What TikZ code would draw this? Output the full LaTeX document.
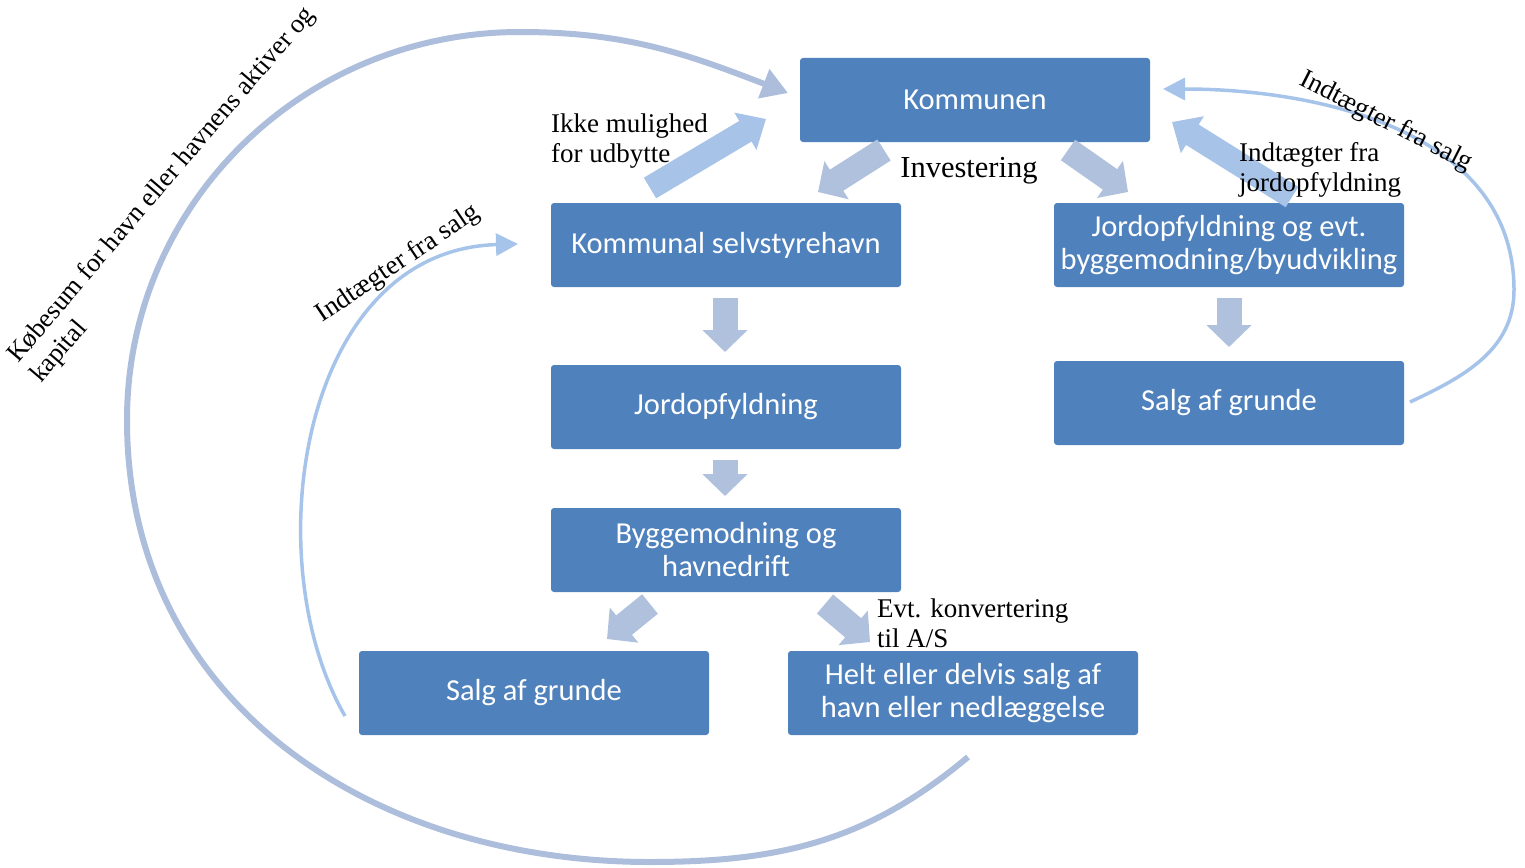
\documentclass[tikz,border=0pt]{standalone}
\usepackage{fontspec}
\setmainfont{Liberation Serif}
\newfontfamily\boxfont{Carlito}
\usetikzlibrary{arrows.meta}
\definecolor{boxblue}{HTML}{4F81BD}
\definecolor{flowgrey}{HTML}{B0C1DD}
\definecolor{flowlight}{HTML}{A8C3E8}
\definecolor{loopgrey}{HTML}{ADBEDC}
\definecolor{looplight}{HTML}{A6C3EA}

\begin{document}
\begin{tikzpicture}[x=1pt,y=-1pt,
  stepbox/.style={fill=boxblue, rounded corners=3pt, minimum width=350pt,
    minimum height=84pt, inner sep=0pt, align=center, text=white,
    font=\boxfont\fontsize{30.5}{33}\selectfont},
  note/.style={font=\fontsize{27}{30}\selectfont, align=left, inner sep=0pt},
  blockarrow/.style={draw=flowgrey, line width=25pt,
    -{Triangle[width=44pt,length=22pt]}},
  blocklight/.style={draw=flowlight, line width=24pt,
    -{Triangle[width=42pt,length=24pt]}},
  bigloop/.style={draw=loopgrey, line width=6pt,
    -{Triangle[width=30pt,length=26pt]}},
  thinloop/.style={draw=looplight, line width=3.5pt,
    -{Triangle[width=22pt,length=22pt]}},
]
\useasboundingbox (0,0) rectangle (1525,867);

% process boxes
\node[stepbox] (kom)   at (975,100) {Kommunen};
\node[stepbox] (selv)  at (726,245) {Kommunal selvstyrehavn};
\node[stepbox] (jev)   at (1229,245) {Jordopfyldning og evt.\\byggemodning/byudvikling};
\node[stepbox] (jord)  at (726,407) {Jordopfyldning};
\node[stepbox] (salgR) at (1229,403) {Salg af grunde};
\node[stepbox] (bygg)  at (726,550) {Byggemodning og\\havnedrift};
\node[stepbox] (salgL) at (534,693) {Salg af grunde};
\node[stepbox] (helt)  at (963,693) {Helt eller delvis salg af\\havn eller nedlæggelse};

% end points of the money loops
\coordinate (bigStart) at (968,757);
\coordinate (bigEnd)   at (788,93);
\coordinate (leftStart) at (345,716);
\coordinate (leftEnd)   at (518,244);
\coordinate (rightStart) at (1410,402);
\coordinate (rightEnd)   at (1163,89);

% money loops (angles are visual: counter-clockwise from the right)
\draw[bigloop] (bigStart) to[out=-140,in=0] (650,862)
  to[out=180,in=-90,looseness=1.05] (127,420)
  to[out=90,in=180] (520,32) to[out=0,in=159] (bigEnd);
\draw[thinloop] (leftStart) .. controls (255,560) and (300,250) .. (leftEnd);
\draw[thinloop] (rightStart) to[out=25,in=-90] (1514,290) to[out=90,in=0] (rightEnd);

% block arrows between the steps
\coordinate (a1) at (725,298);  \coordinate (a2) at (725,352);
\coordinate (b1) at (725,460);  \coordinate (b2) at (725,496);
\coordinate (c1) at (1229,298); \coordinate (c2) at (1229,347);
\coordinate (d1) at (884,150);  \coordinate (d2) at (818,192);
\coordinate (e1) at (1068,150); \coordinate (e2) at (1128,192);
\coordinate (f1) at (650,604);  \coordinate (f2) at (607,639);
\coordinate (g1) at (825,604);  \coordinate (g2) at (870,642);
\coordinate (h1) at (650,188);  \coordinate (h2) at (766,119);
\coordinate (i1) at (1292,197); \coordinate (i2) at (1172,122);

\draw[blockarrow] (a1) -- (a2);
\draw[blockarrow] (b1) -- (b2);
\draw[blockarrow] (c1) -- (c2);
\draw[blockarrow] (d1) -- (d2);
\draw[blockarrow] (e1) -- (e2);
\draw[blockarrow] (f1) -- (f2);
\draw[blockarrow] (g1) -- (g2);
\draw[blocklight] (h1) -- (h2);
\draw[blocklight] (i1) -- (i2);

% labels
\node[note, anchor=north west] (ikke) at (551,114) {Ikke mulighed\\for udbytte};
\node[note, font=\fontsize{30.5}{33}\selectfont] (inv) at (969,171) {Investering};
\node[note, anchor=north west] (indj) at (1239,142) {Indtægter fra\\jordopfyldning};
\node[note, anchor=north west] (evt) at (877,599) {Evt. konvertering\\til A/S};
\node[note, rotate=34] (indL) at (398,264) {Indtægter fra salg};
\node[note, rotate=-27] (indR) at (1386,122) {Indtægter fra salg};
\node[note, font=\fontsize{26.5}{30}\selectfont, rotate=49.5, anchor=base west]
  (kob1) at (18,364) {Købesum for havn eller havnens aktiver og};
\node[note, font=\fontsize{26.5}{30}\selectfont, rotate=49.5, anchor=base west]
  (kob2) at (41,384) {kapital};
\end{tikzpicture}
\end{document}
